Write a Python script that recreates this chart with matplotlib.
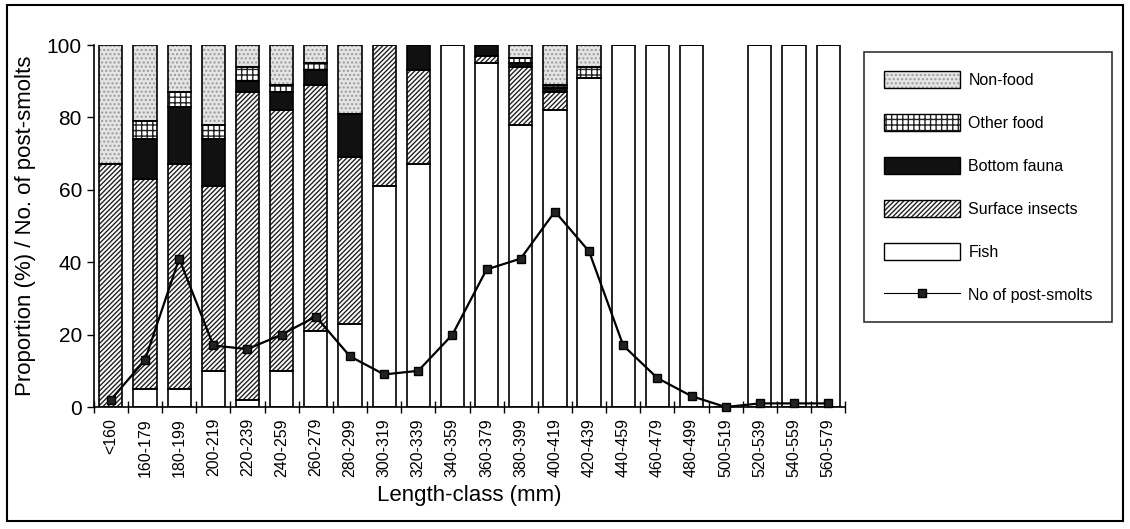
import numpy as np
import matplotlib
matplotlib.use("Agg")
import matplotlib.pyplot as plt
from matplotlib.patches import Patch, Rectangle
from matplotlib.lines import Line2D
from matplotlib.legend_handler import HandlerTuple

plt.rcParams['font.family'] = ['Liberation Sans', 'DejaVu Sans']
plt.rcParams['hatch.linewidth'] = 1.0

classes = ["<160", "160-179", "180-199", "200-219", "220-239", "240-259", "260-279",
           "280-299", "300-319", "320-339", "340-359", "360-379", "380-399", "400-419",
           "420-439", "440-459", "460-479", "480-499", "500-519", "520-539", "540-559",
           "560-579"]

fish = [0, 5, 5, 10, 2, 10, 21, 23, 61, 67, 100, 95, 78, 82, 91, 100, 100, 100, 0, 100, 100, 100]
surface = [67, 58, 62, 51, 85, 72, 68, 46, 39, 26, 0, 2, 16, 5, 0, 0, 0, 0, 0, 0, 0, 0]
bottom = [0, 11, 16, 13, 3, 5, 4, 12, 0, 7, 0, 3, 1, 1, 0, 0, 0, 0, 0, 0, 0, 0]
other = [0, 5, 4, 4, 4, 2, 2, 0, 0, 0, 0, 0, 1.5, 1, 3, 0, 0, 0, 0, 0, 0, 0]
nonfood = [33, 21, 13, 22, 6, 11, 5, 19, 0, 0, 0, 0, 3.5, 11, 6, 0, 0, 0, 0, 0, 0, 0]

n_smolts = [2, 13, 41, 17, 16, 20, 25, 14, 9, 10, 20, 38, 41, 54, 43, 17, 8, 3, 0, 1, 1, 1]

fig = plt.figure(figsize=(11.3, 5.29), dpi=100)
ax = fig.add_axes([0.083, 0.2306, 0.665, 0.6843])

x = np.arange(len(classes))
w = 0.68

# stacked layers: (values, facecolor, hatch, hatch colour)
layers = [
    (fish, "white", None, "black"),
    (surface, "white", "///////", "#222222"),
    (bottom, "#111111", None, "#111111"),
    (other, "white", "+++", "#222222"),
    (nonfood, "#e4e4e4", "....", "#9a9a9a"),
]

base = np.zeros(len(classes))
for vals, fc, hatch, hc in layers:
    vals = np.array(vals, dtype=float)
    ax.bar(x, vals, w, bottom=base, color=fc, hatch=hatch, edgecolor=hc,
           linewidth=0, zorder=2)
    ax.bar(x, vals, w, bottom=base, fill=False, edgecolor="black", linewidth=1.2,
           zorder=3)
    base += vals

ax.plot(x, n_smolts, color="black", linewidth=1.6, marker="s", markersize=6,
        markerfacecolor="#222222", markeredgecolor="black", zorder=5, clip_on=False)

ax.set_xlim(-0.5, len(classes) - 0.5)
ax.set_ylim(0, 100)
ax.set_yticks([0, 20, 40, 60, 80, 100])
ax.tick_params(axis="y", labelsize=15, direction="out", length=5, width=1)
ax.set_xticks(x)
ax.set_xticklabels(classes, rotation=90, fontsize=11.5)
ax.tick_params(axis="x", length=0, pad=8)
ax.set_xticks(np.arange(len(classes) + 1) - 0.5, minor=True)
ax.tick_params(axis="x", which="minor", direction="inout", length=8, width=1)
for s in ["top", "right"]:
    ax.spines[s].set_visible(False)
ax.spines["left"].set_linewidth(1.2)
ax.spines["bottom"].set_linewidth(1.2)

ax.set_ylabel("Proportion (%) / No. of post-smolts", fontsize=16, labelpad=8)
ax.set_xlabel("Length-class (mm)", fontsize=16, labelpad=6)

def hpatch(fc, hatch, hc):
    return (Patch(facecolor=fc, hatch=hatch, edgecolor=hc, linewidth=0),
            Patch(fill=False, edgecolor="black", linewidth=1))

handles = [
    hpatch("#e4e4e4", "....", "#9a9a9a"),
    hpatch("white", "+++", "#222222"),
    hpatch("#111111", None, "#111111"),
    hpatch("white", "///////", "#222222"),
    hpatch("white", None, "white"),
    Line2D([], [], color="black", linewidth=0.8, marker="s", markersize=6,
           markerfacecolor="#222222"),
]
labels = ["Non-food", "Other food", "Bottom fauna", "Surface insects", "Fish",
          "No of post-smolts"]
leg = fig.legend(handles, labels, loc="upper left", bbox_to_anchor=(0.765, 0.902),
                 fontsize=11.5, handlelength=4.8, handleheight=1.3, labelspacing=1.6,
                 borderpad=1.2, handletextpad=0.5, frameon=True, fancybox=False,
                 edgecolor="black", borderaxespad=0,
                 handler_map={tuple: HandlerTuple(ndivide=1, pad=0)})
leg.get_frame().set_linewidth(1.2)

fig.patches.append(Rectangle((0.006, 0.015), 0.988, 0.975, transform=fig.transFigure,
                             fill=False, edgecolor="black", linewidth=1.5))

fig.savefig("out.png", dpi=100)
